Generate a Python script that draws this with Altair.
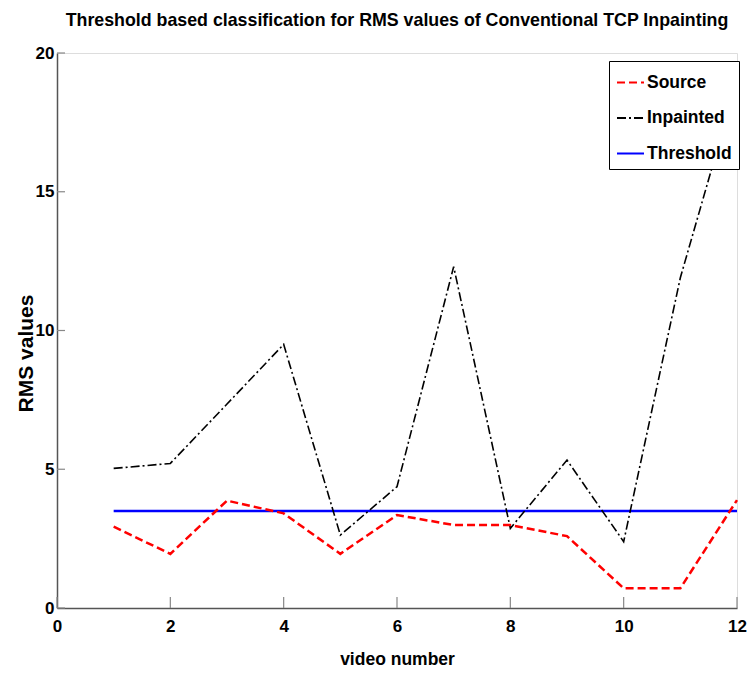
import altair as alt
import pandas as pd

videos = [1, 2, 3, 4, 5, 6, 7, 8, 9, 10, 11, 12]
source = [2.93, 1.95, 3.87, 3.41, 1.95, 3.35, 2.99, 2.99, 2.59, 0.71, 0.71, 3.89]
inpainted = [5.03, 5.21, 7.35, 9.5, 2.63, 4.37, 12.3, 2.87, 5.33, 2.39, 11.9, 19.0]
threshold = [3.5] * 12
series_names = ["Source", "Inpainted", "Threshold"]
series_colors = ["#FF0000", "#000000", "#0000FF"]
series_dash = [[8, 4], [9, 3, 2, 3], [1, 0]]
x_ticks = [0, 2, 4, 6, 8, 10, 12]
y_ticks = [0, 5, 10, 15, 20]

rows = []
for name, vals in zip(series_names, [source, inpainted, threshold]):
    for v, val in zip(videos, vals):
        rows.append({"video": v, "rms": val, "series": name})
df = pd.DataFrame(rows)

FONT = "Liberation Sans, Arial, sans-serif"

legend = alt.Legend(
    title=None, orient="none", legendX=552, legendY=8,
    strokeColor="black", fillColor="white", padding=7,
    symbolType="stroke", symbolSize=729, symbolStrokeWidth=2,
    labelFont=FONT, labelFontSize=17.5, labelFontWeight="bold", labelColor="black",
    rowPadding=12.5, labelOffset=2, cornerRadius=0,
)

xscale = alt.Scale(domain=[0, 12], nice=False, zero=False)
yscale = alt.Scale(domain=[0, 20], nice=False)

xaxis = alt.Axis(
    values=x_ticks, format="d", title="video number", titleFont=FONT, titleFontSize=17.5,
    titleFontWeight="bold", titleColor="black", titleY=56, titleBaseline="alphabetic",
    labelFont=FONT, labelFontSize=17, labelFontWeight="bold", labelColor="black",
    labelPadding=10, labelFlush=False, labelBound=False, labelOverlap=False,
    ticks=False, tickSize=0, grid=False, domainColor="#555555", domainWidth=1.5,
)
yaxis = alt.Axis(
    values=y_ticks, format="d", title="RMS values", titleFont=FONT, titleFontSize=21,
    titleFontWeight="bold", titleColor="black", titleX=-31, titleY=300,
    titleAngle=-90, titleAlign="center", titleBaseline="middle",
    labelFont=FONT, labelFontSize=17, labelFontWeight="bold", labelColor="black",
    labelPadding=3, labelBaseline="middle", labelOverlap=False, labelBound=False, labelFlush=False,
    ticks=False, tickSize=0, grid=False, domainColor="#555555", domainWidth=1.5,
)

color = alt.Color("series:N", scale=alt.Scale(domain=series_names, range=series_colors), legend=legend)
dash = alt.StrokeDash("series:N", scale=alt.Scale(domain=series_names, range=series_dash), legend=legend)

base = alt.Chart(df).encode(
    x=alt.X("video:Q", scale=xscale, axis=xaxis),
    y=alt.Y("rms:Q", scale=yscale, axis=yaxis),
    color=color,
    strokeDash=dash,
)

src = base.transform_filter(alt.datum.series == "Source").mark_line(strokeWidth=2.5)
inp = base.transform_filter(alt.datum.series == "Inpainted").mark_line(strokeWidth=1.6)
thr = base.transform_filter(alt.datum.series == "Threshold").mark_line(strokeWidth=2.5)

xt = alt.Chart(pd.DataFrame({"t": x_ticks})).mark_rule(color="#888888", strokeWidth=1.2).encode(
    x=alt.X("t:Q", scale=xscale), y=alt.value(555), y2=alt.value(544)
)
yt = alt.Chart(pd.DataFrame({"t": y_ticks})).mark_rule(color="#888888", strokeWidth=1.2).encode(
    y=alt.Y("t:Q", scale=yscale), x=alt.value(0), x2=alt.value(8)
)

chart = alt.layer(xt, yt, thr, inp, src).properties(
    width=680, height=555,
    padding={"left": 57, "top": 53, "right": 15, "bottom": 66},
    autosize=alt.AutoSizeParams(type="none"),
    title=alt.Title(
        "Threshold based classification for RMS values of Conventional TCP Inpainting",
        font=FONT, fontSize=17.8, fontWeight="bold", color="black",
        anchor="middle", offset=14,
    ),
).configure_view(stroke=None).configure(background="white")

chart.save("out.html", embed_options={"renderer": "svg", "actions": False})
